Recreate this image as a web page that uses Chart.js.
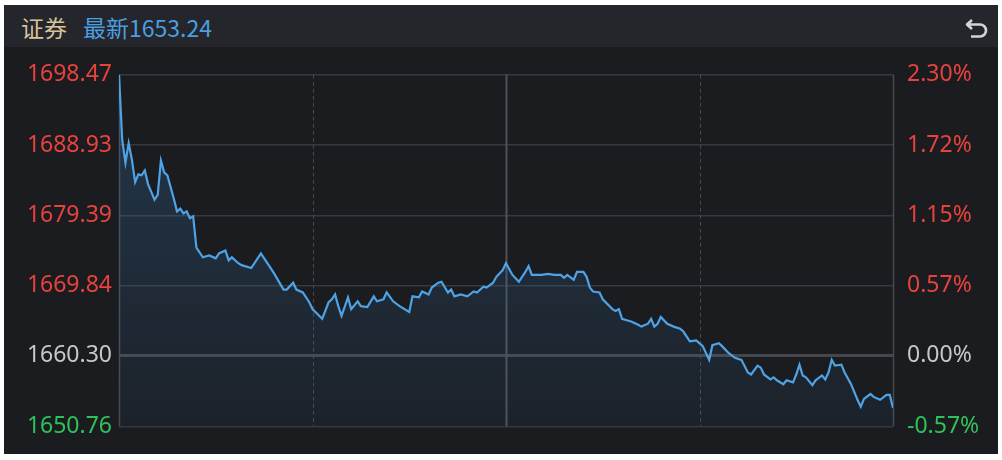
<!DOCTYPE html>
<html>
<head>
<meta charset="utf-8">
<script src="https://cdn.jsdelivr.net/npm/chart.js@4.4.0/dist/chart.umd.min.js"></script>
<style>
  html, body { margin: 0; padding: 0; background: #fff; }
  .panel { position: absolute; left: 4px; top: 5px; width: 994px; height: 449px; background: #1b1c20; overflow: hidden; }
  .head { position: absolute; left: 0; top: 0; width: 100%; height: 42px; background: #24262b;
          font-family: "Noto Sans CJK SC", sans-serif; font-size: 23px; line-height: 44px; }
  .title { position: absolute; left: 17px; top: 0; color: #d9c39c; }
  .last { position: absolute; left: 79px; top: 0; color: #4b9fe0; }
  .back { position: absolute; right: 8px; top: 12px; }
  .plot { position: absolute; left: 0; top: 42px; }
</style>
</head>
<body>
<div class="panel">
  <div class="head">
    <span class="title">证券</span>
    <span class="last">最新1653.24</span>
    <svg class="back" width="26" height="24" viewBox="0 0 26 24">
      <path d="M8 3 L3 7.5 L8 12 M3.5 7.5 H16 a6 6 0 0 1 0 12 H7" fill="none" stroke="#d4d4d6" stroke-width="2.6" stroke-linejoin="round"/>
    </svg>
  </div>
  <canvas id="intraday" class="plot" width="994" height="407"></canvas>
</div>

<script>
  "use strict";

  // trading minutes (0 = open, 120 = midday, 240 = close)
  var minutes = [
    0, 1, 2, 3, 4, 5, 6, 7, 8, 9, 10, 11, 12, 13, 14, 15, 17, 18, 19, 20,
    21, 22, 23, 24, 26, 28, 30, 31, 33, 34, 35, 37, 38, 41, 44, 46, 48, 51, 52, 54,
    55, 57, 59, 60, 63, 65, 66, 67, 68, 69, 71, 72, 74, 75, 77, 79, 80, 82, 83, 85,
    87, 90, 91, 93, 94, 96, 97, 99, 100, 102, 103, 104, 106, 108, 110, 111, 113, 114, 116, 117,
    119, 120, 122, 124, 126, 127, 128, 131, 133, 135, 137, 138, 139, 141, 142, 144, 145, 146, 147, 149,
    150, 153, 154, 155, 156, 158, 159, 161, 162, 164, 165, 166, 167, 168, 170, 172, 174, 175, 177, 179,
    181, 183, 184, 186, 187, 189, 191, 193, 195, 196, 198, 199, 200, 202, 203, 204, 206, 207, 209, 210,
    211, 212, 213, 215, 216, 218, 219, 220, 221, 222, 224, 225, 227, 229, 230, 231, 233, 234, 236, 238,
    239, 240
  ];

  var prices = [
    1698.47, 1689.59, 1686.54, 1689.19, 1686.94, 1683.89, 1684.95, 1684.82, 1685.48, 1683.63,
    1682.57, 1681.51, 1682.17, 1686.81, 1685.22, 1684.82, 1681.64, 1679.92, 1680.31, 1679.65,
    1679.92, 1678.99, 1679.25, 1675.01, 1673.69, 1673.95, 1673.55, 1674.22, 1674.61, 1673.29,
    1673.69, 1672.89, 1672.63, 1672.23, 1674.22, 1672.89, 1671.57, 1669.31, 1669.31, 1670.24,
    1669.31, 1668.92, 1667.59, 1666.66, 1665.34, 1667.59, 1667.99, 1668.65, 1667.06, 1665.73,
    1668.25, 1666.66, 1667.72, 1667.06, 1666.93, 1668.39, 1667.72, 1667.99, 1668.92, 1667.72,
    1667.06, 1666.27, 1668.39, 1668.25, 1669.05, 1668.65, 1669.58, 1670.24, 1670.37, 1668.92,
    1669.31, 1668.39, 1668.65, 1668.39, 1669.05, 1668.92, 1669.71, 1669.58, 1670.24, 1671.04,
    1671.96, 1672.89, 1671.30, 1670.37, 1671.70, 1672.49, 1671.30, 1671.30, 1671.43, 1671.30,
    1671.30, 1670.90, 1671.30, 1670.64, 1671.70, 1671.70, 1671.04, 1669.58, 1669.05, 1668.92,
    1667.99, 1666.66, 1666.40, 1666.66, 1665.34, 1665.07, 1664.94, 1664.54, 1664.28, 1664.67,
    1665.34, 1664.28, 1664.67, 1665.60, 1664.67, 1664.28, 1664.01, 1663.61, 1662.29, 1662.42,
    1661.63, 1659.77, 1661.76, 1662.02, 1661.63, 1660.70, 1660.04, 1659.77, 1658.05, 1657.78,
    1658.98, 1658.71, 1657.78, 1657.12, 1657.39, 1656.99, 1656.46, 1656.99, 1656.72, 1657.78,
    1659.11, 1657.65, 1657.39, 1656.33, 1656.99, 1657.65, 1657.12, 1658.05, 1659.77, 1658.98,
    1659.11, 1658.05, 1656.46, 1654.34, 1653.41, 1654.47, 1655.13, 1654.74, 1654.34, 1655.00,
    1655.00, 1653.24
  ];

  var prevClose = 1660.30;
  var priceTicks = [1698.47, 1688.93, 1679.39, 1669.84, 1660.30, 1650.76];
  var pctLabels = ["2.30%", "1.72%", "1.15%", "0.57%", "0.00%", "-0.57%"];
  var timeGrid = [0, 60, 120, 180, 240];

  var RED = "#e8423d", GREY = "#c8c8ca", GREEN = "#2fc25a";

  var tickColor = function(ctx) {
    var v = ctx.tick.value;
    if (Math.abs(v - prevClose) < 0.005) return GREY;
    return v > prevClose ? RED : GREEN;
  };

  var setTicks = function(scale) {
    scale.ticks = priceTicks.map(function(v) { return { value: v }; });
  };

  // vertical session lines, drawn from the x scale
  var timeLines = {
    id: "timeLines",
    beforeDatasetsDraw: function(chart) {
      var c = chart.ctx, a = chart.chartArea, x = chart.scales.x;
      c.save();
      timeGrid.forEach(function(m) {
        var px = Math.round(x.getPixelForValue(m)) + 0.5;
        c.beginPath();
        if (m === 60 || m === 180) {
          c.setLineDash([4, 3]);
          c.strokeStyle = "#48494e";
          c.lineWidth = 1;
        } else if (m === 120) {
          c.setLineDash([]);
          c.strokeStyle = "#505156";
          c.lineWidth = 2;
        } else {
          c.setLineDash([]);
          c.strokeStyle = "#48494e";
          c.lineWidth = 1.5;
        }
        c.moveTo(px, a.top);
        c.lineTo(px, a.bottom);
        c.stroke();
      });
      c.restore();
    }
  };

  new Chart(document.getElementById("intraday"), {
    type: "line",
    data: {
      datasets: [{
        data: minutes.map(function(m, i) { return { x: m, y: prices[i] }; }),
        borderColor: "#4ea3e6",
        borderWidth: 2.2,
        pointRadius: 0,
        tension: 0,
        fill: "start",
        backgroundColor: function(ctx) {
          var a = ctx.chart.chartArea;
          if (!a) return "rgba(0,0,0,0)";
          var g = ctx.chart.ctx.createLinearGradient(0, a.top, 0, a.bottom);
          g.addColorStop(0, "rgba(52,110,160,0.34)");
          g.addColorStop(1, "rgba(52,110,160,0.08)");
          return g;
        }
      }]
    },
    options: {
      responsive: false,
      animation: false,
      devicePixelRatio: 1,
      layout: { padding: { top: 23, bottom: 24, left: 0, right: 0 } },
      plugins: { legend: false, tooltip: false },
      scales: {
        x: { type: "linear", min: 0, max: 240, display: false },
        y: {
          position: "left",
          min: 1650.76,
          max: 1698.47,
          afterBuildTicks: setTicks,
          afterFit: function(s) { s.width = 115; },
          border: { display: false },
          grid: {
            drawTicks: false,
            color: function(ctx) {
              return Math.abs(ctx.tick.value - prevClose) < 0.005 ? "#46474c" : "#38393e";
            },
            lineWidth: function(ctx) {
              return Math.abs(ctx.tick.value - prevClose) < 0.005 ? 3 : 1.4;
            }
          },
          ticks: {
            padding: 7,
            color: tickColor,
            font: { family: "'Noto Sans', sans-serif", size: 23 },
            callback: function(v) { return v.toFixed(2); }
          }
        },
        y1: {
          position: "right",
          min: 1650.76,
          max: 1698.47,
          afterBuildTicks: setTicks,
          afterFit: function(s) { s.width = 105; },
          border: { display: false },
          grid: { drawOnChartArea: false, drawTicks: false },
          ticks: {
            padding: 14,
            color: tickColor,
            font: { family: "'Noto Sans', sans-serif", size: 23 },
            callback: function(v, i) { return pctLabels[i]; }
          }
        }
      }
    },
    plugins: [timeLines]
  });
</script>
</body>
</html>
